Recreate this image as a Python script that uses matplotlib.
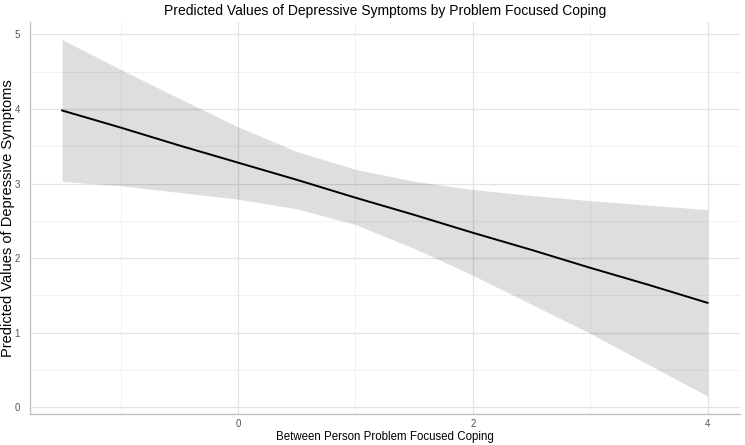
import matplotlib
matplotlib.use("Agg")
import matplotlib.pyplot as plt
from matplotlib.ticker import MultipleLocator

plt.rcParams["font.family"] = ["Liberation Sans", "DejaVu Sans"]

# predicted values and confidence band
coping = [-1.5, -1.0, -0.5, 0.0, 0.5, 1.0, 1.5, 2.0, 2.5, 3.0, 3.5, 4.0]
predicted = [3.98, 3.75, 3.51, 3.28, 3.05, 2.81, 2.58, 2.34, 2.11, 1.87, 1.64, 1.40]
ci_upper = [4.93, 4.53, 4.14, 3.76, 3.43, 3.19, 3.03, 2.92, 2.84, 2.77, 2.71, 2.65]
ci_lower = [3.03, 2.97, 2.88, 2.79, 2.66, 2.45, 2.13, 1.77, 1.38, 0.99, 0.57, 0.15]

x_ticks = [0, 2, 4]
y_ticks = [0, 1, 2, 3, 4, 5]

fig = plt.figure(figsize=(7.45, 4.45), dpi=100, facecolor="white")
ax = fig.add_axes([0.040, 0.070, 0.953, 0.881])

ax.fill_between(coping, ci_lower, ci_upper, color="black", alpha=0.13,
                linewidth=0, zorder=2)
ax.plot(coping, predicted, color="black", linewidth=1.4, zorder=3)

span_x = coping[-1] - coping[0]
ax.set_xlim(coping[0] - 0.05 * span_x, coping[-1] + 0.05 * span_x)
span_y = max(ci_upper) - min(ci_lower)
ax.set_ylim(min(ci_lower) - 0.05 * span_y, max(ci_upper) + 0.05 * span_y)

ax.set_xticks(x_ticks)
ax.set_yticks(y_ticks)
ax.xaxis.set_minor_locator(MultipleLocator(1))
ax.yaxis.set_minor_locator(MultipleLocator(0.5))
ax.grid(True, which="major", color="#E3E3E3", linewidth=0.9, zorder=0)
ax.grid(True, which="minor", color="#EFEFEF", linewidth=0.6, zorder=0)
ax.set_axisbelow(True)

for side in ("top", "right"):
    ax.spines[side].set_visible(False)
for side in ("left", "bottom"):
    ax.spines[side].set_color("#BDBDBD")
    ax.spines[side].set_linewidth(0.9)

ax.tick_params(which="both", length=0, labelsize=7, labelcolor="#555555")
ax.tick_params(axis="x", pad=4)
ax.tick_params(axis="y", pad=7)

ax.set_title("Predicted Values of Depressive Symptoms by Problem Focused Coping",
             fontsize=10, pad=5)
ax.set_xlabel("Between Person Problem Focused Coping", fontsize=8.3, labelpad=1)
ax.set_ylabel("Predicted Values of Depressive Symptoms", fontsize=10.5, labelpad=0)

fig.savefig("out.png", dpi=100, facecolor="white")
